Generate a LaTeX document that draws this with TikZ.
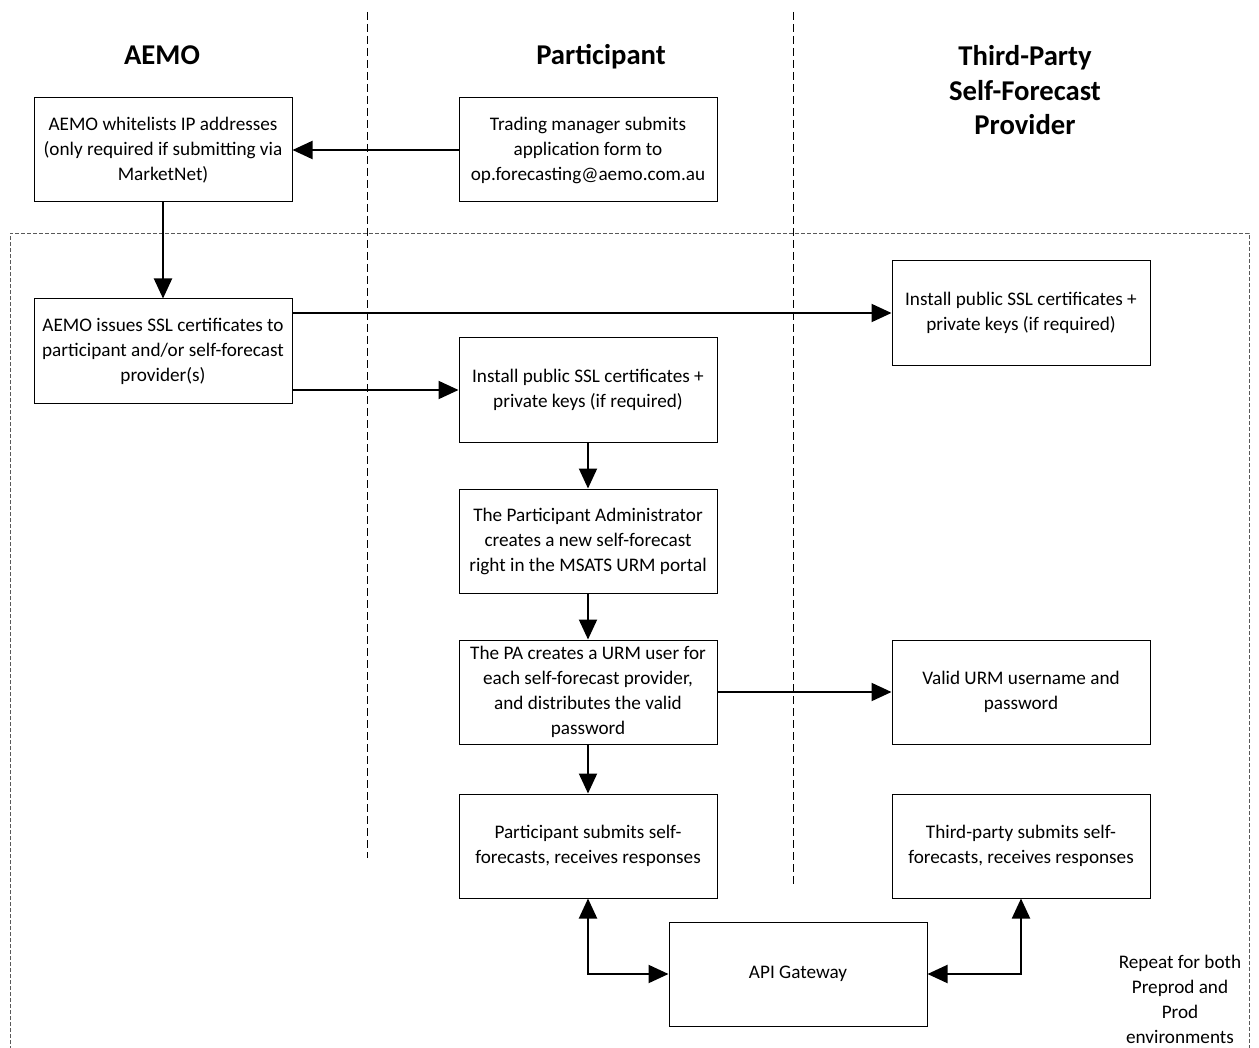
\documentclass[tikz,border=0pt]{standalone}
\usepackage{fontspec}
\setmainfont{Carlito}
\usetikzlibrary{positioning, arrows.meta}

\begin{document}
\begin{tikzpicture}[x=0.75pt, y=-0.75pt,
  caja/.style={draw, line width=0.75pt, minimum width=193.5pt, minimum height=78pt, align=center, inner sep=2pt, font=\fontsize{14.4}{18.75}\selectfont},
  carril/.style={align=center, anchor=base, font=\fontsize{21.5}{26}\selectfont\bfseries},
  flecha/.style={line width=1.5pt, -{Triangle[length=15pt, width=13.5pt]}},
  doble/.style={line width=1.5pt, {Triangle[length=15pt, width=13.5pt]}-{Triangle[length=15pt, width=13.5pt]}},
  divisor/.style={line width=0.6pt, dash pattern=on 6pt off 3pt},
  marco/.style={line width=0.6pt, gray!70!black, dash pattern=on 3pt off 1.5pt}]

  \useasboundingbox (0,0) rectangle (1259,1048);

  % Carriles
  \draw[divisor] (367,12) -- (367,858); % AEMO | Participant
  \draw[divisor] (793,12) -- (793,884); % Participant | Third-Party
  \draw[marco] (10,1050) -- (10,233) -- (1249,233) -- (1249,1050); % Preprod / Prod

  \node[carril] (hAEMO) at (162,65) {AEMO};
  \node[carril] (hPart) at (601,65) {Participant};
  \node[carril] (hThird) at (1025,135) {Third-Party\\Self-Forecast\\Provider}; % base = last line

  % Pasos
  \node[caja] (whitelist) at (163,150) {AEMO whitelists IP addresses\\(only required if submitting via\\MarketNet)};
  \node[caja] (apply) at (588,150) {Trading manager submits\\application form to\\op.forecasting@aemo.com.au};
  \node[caja] (issue) at (163,351) {AEMO issues SSL certificates to\\participant and/or self-forecast\\provider(s)};
  \node[caja] (tpinstall) at (1021,313) {Install public SSL certificates +\\private keys (if required)};
  \node[caja] (pinstall) at (588,390) {Install public SSL certificates +\\private keys (if required)};
  \node[caja] (admin) at (588,541) {The Participant Administrator\\creates a new self-forecast\\right in the MSATS URM portal};
  \node[caja] (urmuser) at (588,692) {The PA creates a URM user for\\each self-forecast provider,\\and distributes the valid\\password};
  \node[caja] (urmvalid) at (1021,692) {Valid URM username and\\password};
  \node[caja] (psubmit) at (588,846) {Participant submits self-\\forecasts, receives responses};
  \node[caja] (tpsubmit) at (1021,846) {Third-party submits self-\\forecasts, receives responses};
  \node[caja] (gateway) at (798,974) {API Gateway};

  \node[align=center, font=\fontsize{14.4}{18.75}\selectfont] (repeat) at (1180,999) {Repeat for both\\Preprod and\\Prod\\environments};

  % Flechas
  \draw[flecha] (apply) -- (whitelist);
  \draw[flecha] (whitelist) -- (issue);
  \draw[flecha] (issue.east |- tpinstall.west) -- (tpinstall.west);
  \draw[flecha] (issue.east |- pinstall.west) -- (pinstall.west);
  \draw[flecha] (pinstall) -- (admin);
  \draw[flecha] (admin) -- (urmuser);
  \draw[flecha] (urmuser) -- (urmvalid);
  \draw[flecha] (urmuser) -- (psubmit);
  \draw[doble] (psubmit.south) |- (gateway.west); % ida y vuelta
  \draw[doble] (tpsubmit.south) |- (gateway.east); % ida y vuelta

\end{tikzpicture}
\end{document}
